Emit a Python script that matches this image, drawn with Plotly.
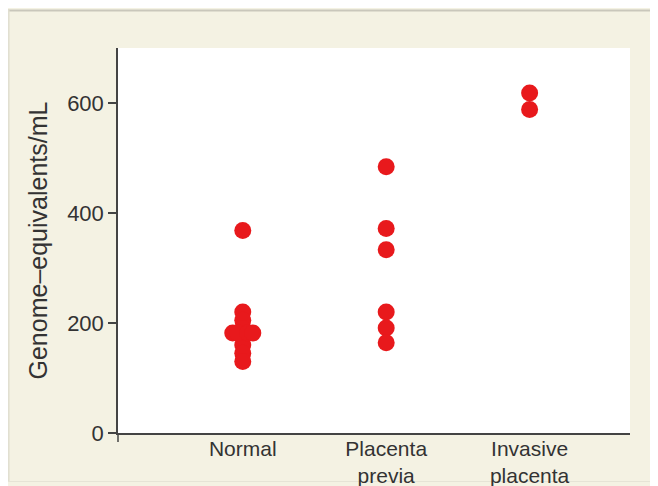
import plotly.graph_objects as go

categories = ["Normal", "Placenta<br>previa", "Invasive<br>placenta"]
cat_pos = [1, 2, 3]

normal_vals = [368, 220, 205, 190, 175, 160, 145, 130, 182, 182, 182, 182]
normal_offs = [0, 0, 0, 0, 0, 0, 0, 0, -0.07, -0.035, 0.035, 0.07]
previa_vals = [484, 372, 333, 220, 191, 164]
invasive_vals = [618, 588]

yticks = [0, 200, 400, 600]

xs = [cat_pos[0] + o for o in normal_offs] + [cat_pos[1]] * len(previa_vals) + [cat_pos[2]] * len(invasive_vals)
ys = normal_vals + previa_vals + invasive_vals

CREAM = "#f4f2e3"
AX = "#444444"

# figure is drawn at an 8px page offset; figure size 650x478
W, H = 650, 478
L, R, T, B = 110, 28, 40, 53
PW, PH = W - L - R, H - T - B


def px_x(p):
    return (p - L) / PW


def px_y(p):
    return (H - B - p) / PH


fig = go.Figure()
fig.add_trace(go.Scatter(
    x=xs, y=ys, mode="markers",
    marker=dict(color="#e8191c", size=17, line=dict(width=0)),
    showlegend=False, hoverinfo="skip",
))

fig.update_layout(
    width=W, height=H,
    margin=dict(l=L, r=R, t=T, b=B, pad=0),
    paper_bgcolor=CREAM,
    plot_bgcolor="#ffffff",
    font=dict(family="Liberation Sans, Arial, sans-serif", size=21, color="#333333"),
    xaxis=dict(
        range=[0.13, 3.7], tickvals=cat_pos, ticktext=categories,
        showgrid=False, zeroline=False, showline=True, linecolor=AX, linewidth=1.5,
        ticks="", tickfont=dict(size=21), automargin=False, ticklabelstandoff=-4,
    ),
    yaxis=dict(
        range=[0, 700], tickvals=yticks, showgrid=False, zeroline=False,
        showline=True, linecolor=AX, linewidth=1.5,
        ticks="outside", ticklen=8, tickcolor=AX, tickwidth=1.5,
        tickfont=dict(size=22), automargin=False,
        title=dict(text="Genome–equivalents/mL", font=dict(size=25), standoff=12),
    ),
    shapes=[
        dict(type="line", xref="paper", yref="paper", x0=px_x(0), x1=px_x(W), y0=px_y(2.5), y1=px_y(2.5),
             line=dict(color="#c9c7bb", width=2), layer="below"),
        dict(type="line", xref="paper", yref="paper", x0=px_x(0.8), x1=px_x(0.8), y0=px_y(473), y1=px_y(2),
             line=dict(color="#e0ded0", width=1.5), layer="below"),
        dict(type="line", xref="paper", yref="paper", x0=px_x(0), x1=px_x(W), y0=px_y(473.5), y1=px_y(473.5),
             line=dict(color="#e6e4d6", width=1), layer="below"),
        dict(type="line", xref="paper", yref="paper", x0=0, x1=0, y0=0, y1=px_y(H - B + 9),
             line=dict(color=AX, width=1.5)),
    ],
)

fig.write_html("out.html")
